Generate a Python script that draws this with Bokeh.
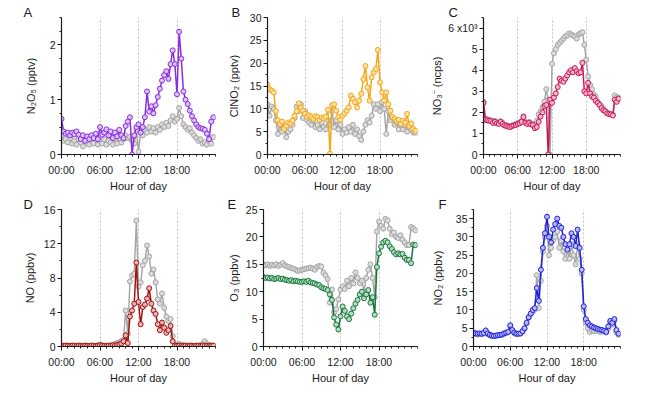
from bokeh.plotting import figure
from bokeh.layouts import column, row
from bokeh.models import Range1d, FixedTicker, ColumnDataSource
from bokeh.embed import file_html
from bokeh.resources import INLINE

# sampling times (hours of day, every 20 min)
hours = [i / 3 for i in range(72)]

x_ticks = [0, 6, 12, 18]
x_tick_labels = {0: "00:00", 6: "06:00", 12: "12:00", 18: "18:00"}

n2o5_color = [0.65,0.42,0.38,0.40,0.35,0.40,0.37,0.42,0.36,0.28,0.35,0.25,
              0.33,0.28,0.35,0.30,0.38,0.28,0.50,0.36,0.40,0.46,0.35,0.42,
              0.30,0.40,0.33,0.45,0.35,0.30,0.52,0.60,0.68,0.00,0.35,0.50,
              0.55,0.40,0.50,0.68,1.15,0.78,0.88,0.75,0.90,1.05,1.20,1.35,
              1.45,1.52,1.38,1.65,1.90,1.65,1.10,2.24,1.75,1.15,1.00,0.92,
              0.80,0.70,0.62,0.55,0.50,0.48,0.47,0.45,0.38,0.28,0.60,0.68]
n2o5_grey = [0.35,0.25,0.28,0.22,0.30,0.20,0.25,0.18,0.28,0.22,0.15,0.25,
             0.20,0.18,0.25,0.20,0.28,0.18,0.25,0.20,0.28,0.18,0.25,0.22,
             0.18,0.28,0.20,0.30,0.22,0.28,0.35,0.30,0.32,0.25,0.20,0.45,
             0.05,0.40,0.35,0.45,0.40,0.50,0.42,0.48,0.40,0.50,0.45,0.55,
             0.50,0.58,0.52,0.62,0.70,0.60,0.65,0.85,0.70,0.55,0.50,0.45,
             0.48,0.40,0.35,0.30,0.25,0.28,0.20,0.22,0.18,0.25,0.20,0.32]

clno2_color = [15.3,14.3,14.0,13.6,9.5,7.5,6.7,7.2,5.6,6.3,7.0,6.8,
               7.4,8.5,9.5,11.2,10.3,9.6,8.9,8.3,8.6,8.2,7.8,8.4,
               8.2,7.6,8.1,7.9,8.3,9.8,0.2,10.8,11.0,9.6,8.2,7.6,
               8.5,9.0,9.6,10.3,12.9,12.2,11.4,10.3,11.8,13.3,16.5,19.4,
               14.7,11.8,16.9,18.0,18.7,22.9,15.8,13.6,11.8,13.6,11.0,9.6,
               8.2,7.8,7.4,7.6,6.7,7.4,7.0,8.9,6.3,6.8,5.6,5.2]
clno2_grey = [11.0,8.5,10.5,10.0,7.5,4.5,6.5,5.0,6.0,3.8,5.0,5.5,
              6.5,8.0,10.5,9.5,11.0,8.0,9.5,7.5,7.0,6.5,7.5,6.0,
              6.5,5.5,7.0,6.0,5.5,7.5,6.5,9.5,6.0,7.5,5.5,6.5,
              4.5,5.5,4.8,6.0,5.0,6.5,4.5,5.5,4.0,3.2,5.0,6.5,
              7.5,7.0,8.5,11.0,10.0,11.0,9.5,11.5,10.0,4.5,9.5,7.5,
              8.0,6.5,7.0,5.5,6.5,5.5,6.5,5.0,6.0,5.5,4.8,4.8]

no3_color = [2.45,1.65,1.62,1.60,1.58,1.50,1.55,1.48,1.45,1.55,1.45,1.38,
             1.35,1.32,1.30,1.35,1.38,1.40,1.45,1.48,1.55,1.78,1.50,1.45,
             1.50,1.42,1.40,1.25,1.30,1.55,1.80,2.00,2.30,2.35,0.00,2.60,
             2.45,2.70,2.90,3.20,3.60,3.50,3.45,3.60,3.75,3.90,4.00,3.90,
             4.10,3.95,3.85,3.90,4.35,3.00,2.90,3.40,2.90,2.75,2.70,2.55,
             2.45,2.35,2.20,2.10,2.05,1.95,1.92,1.90,1.85,2.60,2.50,2.65]
no3_grey = [2.50,1.70,1.68,1.65,1.62,1.55,1.60,1.52,1.50,1.58,1.50,1.42,
            1.40,1.36,1.35,1.38,1.42,1.45,1.50,1.52,1.60,1.82,1.55,1.50,
            1.55,1.48,1.45,1.40,1.60,1.90,2.05,2.25,2.50,3.10,2.60,0.00,
            4.30,4.80,5.00,5.20,5.30,5.40,5.50,5.60,5.65,5.75,5.70,5.65,
            5.60,5.50,5.70,5.75,5.80,5.20,4.50,3.70,3.30,3.10,2.85,2.75,
            2.50,2.40,2.30,2.15,2.05,2.00,1.95,1.92,1.90,2.80,2.70,2.70]

no_color = [0.10,0.05,0.10,0.08,0.05,0.10,0.08,0.05,0.10,0.08,0.05,0.10,
            0.08,0.05,0.10,0.08,0.05,0.10,0.15,0.10,0.08,0.05,0.10,0.08,
            0.15,0.10,0.20,0.25,0.35,0.60,1.30,0.40,3.50,4.20,5.00,9.80,
            5.20,2.60,4.60,4.90,5.60,6.80,5.00,4.20,3.80,2.60,1.90,2.80,
            2.20,1.60,1.90,2.40,0.60,0.10,0.08,0.10,0.05,0.08,0.10,0.05,
            0.08,0.10,0.05,0.08,0.10,0.05,0.12,0.10,0.08,0.05,0.08,0.10]
no_grey = [0.15,0.10,0.12,0.10,0.08,0.12,0.10,0.08,0.12,0.10,0.08,0.12,
           0.10,0.08,0.12,0.10,0.08,0.15,0.20,0.12,0.10,0.08,0.12,0.10,
           0.20,0.30,0.40,0.50,0.65,0.80,4.20,1.50,7.60,8.30,8.50,14.70,
           7.00,7.50,9.50,10.00,11.80,10.50,8.50,9.00,7.50,5.50,5.00,6.20,
           4.50,3.50,3.00,3.20,1.20,0.30,0.15,0.30,0.20,0.15,0.12,0.10,
           0.12,0.10,0.08,0.12,0.10,0.15,0.30,0.60,0.30,0.20,0.12,0.10]

o3_color = [12.7,12.5,12.6,12.4,12.5,12.3,12.4,12.5,12.3,12.4,12.2,12.1,
            12.0,12.1,11.9,12.0,11.9,11.8,11.8,11.9,11.8,12.0,11.7,11.6,
            11.5,11.3,11.2,10.8,10.6,10.5,10.3,9.5,8.5,5.3,4.0,3.1,
            5.5,7.3,6.5,5.5,5.0,6.0,7.0,7.8,8.5,9.5,10.0,8.8,
            9.5,10.3,8.0,9.0,5.8,14.5,17.0,18.2,19.0,19.3,19.0,18.3,
            17.8,17.2,16.8,17.0,16.8,16.9,16.2,15.8,15.8,15.2,18.6,18.5]
o3_grey = [15.0,14.8,15.0,14.7,14.9,14.8,15.0,14.7,14.9,15.2,14.8,14.6,
           14.5,14.3,14.2,14.0,13.8,13.9,14.0,14.1,14.2,14.3,14.4,14.2,
           14.0,14.5,14.7,14.6,13.5,13.0,12.3,8.0,10.4,6.2,6.8,8.6,
           10.4,11.0,10.5,12.0,11.0,12.5,11.5,13.5,12.5,11.5,12.0,10.0,
           12.5,14.0,15.0,12.5,9.0,21.0,22.8,22.0,21.5,23.3,23.0,21.5,
           20.5,20.8,20.0,19.8,20.3,19.5,19.0,18.5,18.5,21.8,21.5,21.2]

no2_color = [3.7,3.6,3.5,3.6,3.5,3.7,4.4,3.6,3.2,3.0,2.9,3.0,
             3.1,3.2,3.3,3.6,3.8,4.0,5.8,4.5,3.8,3.5,3.5,3.6,
             4.2,5.0,6.5,8.0,9.0,10.0,10.5,16.0,12.5,21.0,27.0,31.0,
             35.5,30.0,28.5,32.0,33.5,35.0,33.0,32.5,30.0,28.0,26.5,28.0,
             31.0,30.0,27.5,32.0,27.0,21.0,11.0,7.5,6.5,5.8,5.5,5.2,
             5.0,4.8,4.6,4.5,4.3,4.0,5.5,7.0,6.5,7.5,4.5,3.5]
no2_grey = [3.5,3.4,3.3,3.4,3.3,3.5,4.2,3.4,3.0,2.8,2.8,2.9,
            3.0,3.1,3.2,3.5,3.7,3.9,5.5,4.3,3.6,3.4,3.4,3.5,
            4.0,4.8,6.3,7.8,8.8,9.5,10.0,19.5,10.5,18.0,26.0,30.0,
            33.0,25.0,27.0,29.0,30.0,31.5,27.0,29.0,26.0,24.0,26.0,24.0,
            28.0,25.0,22.5,28.0,24.0,20.0,10.0,6.5,5.0,4.0,4.5,4.2,
            4.5,4.2,4.0,4.2,4.0,3.8,5.0,6.5,6.0,7.0,3.8,3.2]

FONT = "Liberation Sans"
TXT = "#1a1a1a"
GREY_LINE = "#a3a3a3"
GREY_FILL = "#dcdcdc"


def panel(letter, width, height, bl, br, bt, bb, ymax, yticks, yminor, ylabel,
          lab_standoff, grey_vals, col_vals, color, light, letter_dx, overrides=None):
    p = figure(width=width, height=height, x_range=Range1d(0, 24), y_range=Range1d(0, ymax),
               output_backend="svg", toolbar_location=None,
               min_border_left=bl, min_border_right=br, min_border_top=bt, min_border_bottom=bb)
    p.outline_line_color = None
    p.background_fill_color = "white"
    p.border_fill_color = "white"
    p.ygrid.visible = False
    p.xgrid.ticker = FixedTicker(ticks=[6, 12, 18])
    p.xgrid.grid_line_color = "#c4c4c4"
    p.xgrid.grid_line_dash = "2 2"
    p.xgrid.grid_line_width = 1

    # panel letter as a left-aligned title shifted into the left border
    p.title.text = letter
    p.title.align = "left"
    p.title.offset = letter_dx
    p.title.standoff = -4
    p.title.text_font = FONT
    p.title.text_font_size = "13px"
    p.title.text_font_style = "normal"
    p.title.text_color = TXT

    p.xaxis.ticker = FixedTicker(ticks=x_ticks, minor_ticks=list(range(25)))
    p.xaxis.major_label_overrides = x_tick_labels
    p.xaxis.axis_label = "Hour of day"
    p.yaxis.ticker = FixedTicker(ticks=yticks, minor_ticks=yminor)
    p.yaxis.axis_label = ylabel
    if overrides:
        p.yaxis.major_label_overrides = overrides
    for ax in (p.xaxis[0], p.yaxis[0]):
        ax.axis_line_color = TXT
        ax.axis_line_width = 1.2
        ax.major_tick_line_color = TXT
        ax.minor_tick_line_color = TXT
        ax.major_tick_in = 0
        ax.minor_tick_in = 0
        ax.major_tick_out = 4
        ax.minor_tick_out = 2
        ax.major_label_text_font = FONT
        ax.major_label_text_font_size = "10.5px"
        ax.major_label_text_color = TXT
        ax.axis_label_text_font = FONT
        ax.axis_label_text_font_size = "11px"
        ax.axis_label_text_font_style = "normal"
        ax.axis_label_text_color = TXT
    p.xaxis.major_label_standoff = 5
    p.xaxis.axis_label_standoff = 1
    p.yaxis.major_label_standoff = 2
    p.yaxis.axis_label_standoff = lab_standoff

    src_g = ColumnDataSource(dict(x=hours, y=grey_vals))
    src_c = ColumnDataSource(dict(x=hours, y=col_vals))
    p.line("x", "y", source=src_g, line_color=GREY_LINE, line_width=1.4)
    p.scatter("x", "y", source=src_g, size=5, line_color=GREY_LINE, fill_color=GREY_FILL, line_width=1)
    p.line("x", "y", source=src_c, line_color=color, line_width=1.5)
    p.scatter("x", "y", source=src_c, size=5, line_color=color, fill_color=light, line_width=1)
    return p


TOP_H, BOT_H = 194, 198

pA = panel("A", 224, TOP_H, 61, 9, 17, 40, 2.5, [0, 1, 2], [i * 0.25 for i in range(11)],
           "N₂O₅ (pptv)", 10, n2o5_grey, n2o5_color, "#8a2be2", "#d9c2f5", -38)
pB = panel("B", 204, TOP_H, 38, 11, 17, 40, 30, [0, 5, 10, 15, 20, 25, 30], [i * 2.5 for i in range(13)],
           "ClNO₂ (pptv)", 7, clno2_grey, clno2_color, "#f5a614", "#fde1a8", -36)
pC = panel("C", 214, TOP_H, 36, 22, 17, 40, 6.5, [0, 1, 2, 3, 4, 5, 6], [i * 0.5 for i in range(14)],
           "NO₃⁻ (ncps)", 2, no3_grey, no3_color, "#cc1456", "#f2b6cb", -35,
           overrides={6: "6 x10³"})
pD = panel("D", 224, BOT_H, 61, 9, 15, 46, 16, [0, 4, 8, 12, 16], [i * 2 for i in range(9)],
           "NO (ppbv)", 5, no_grey, no_color, "#a31212", "#e8b4b4", -38)
pE = panel("E", 204, BOT_H, 38, 11, 15, 46, 25, [0, 5, 10, 15, 20, 25], [i * 2.5 for i in range(11)],
           "O₃ (ppbv)", 3, o3_grey, o3_color, "#17773a", "#b5dcc2", -36)
pF = panel("F", 214, BOT_H, 36, 22, 15, 46, 37.5, [0, 5, 10, 15, 20, 25, 30, 35], [i * 2.5 for i in range(16)],
           "NO₂ (ppbv)", 9, no2_grey, no2_color, "#1f1fe0", "#b9b9f7", -35)

layout = column(row(pA, pB, pC), row(pD, pE, pF))
open("out.html", "w").write(file_html(layout, INLINE))
